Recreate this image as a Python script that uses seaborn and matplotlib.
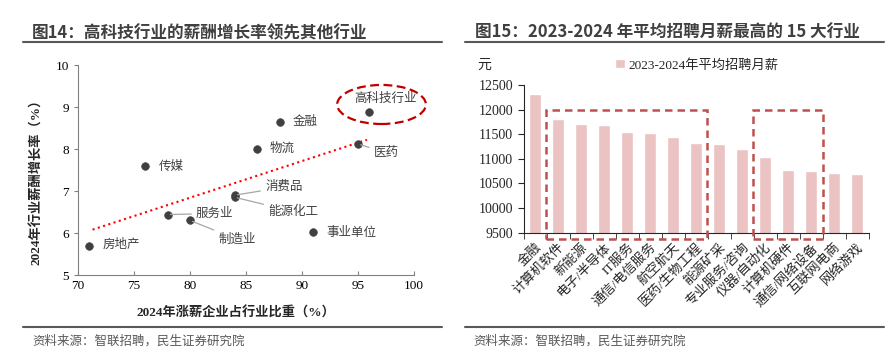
import numpy as np
import pandas as pd
import matplotlib
matplotlib.use("Agg")
import matplotlib.pyplot as plt
from matplotlib.patches import Ellipse, Rectangle
from matplotlib.lines import Line2D
import seaborn as sns

sns.set_style("ticks")
plt.rcParams['font.family'] = ['Liberation Serif', 'Noto Sans CJK SC']
plt.rcParams['axes.unicode_minus'] = False

# ---- data: left chart (scatter) ----
industries = ['高科技行业', '金融', '医药', '物流', '传媒', '消费品', '能源化工',
              '服务业', '制造业', '事业单位', '房地产']
raise_share = [96, 88, 95, 86, 76, 84, 84, 78, 80, 91, 71]
salary_growth = [8.87, 8.65, 8.12, 8.0, 7.6, 6.9, 6.85, 6.44, 6.30, 6.02, 5.70]
trend_x = [71.3, 95.8]
trend_y = [6.08, 8.22]

# ---- data: right chart (bars) ----
sectors = ['金融', '计算机软件', '新能源', '电子/半导体', 'IT服务', '通信/电信服务',
           '航空航天', '医药/生物工程', '能源矿采', '专业服务/咨询', '仪器/自动化',
           '计算机硬件', '通信/网络设备', '互联网电商', '网络游戏']
monthly_pay = [12310, 11810, 11710, 11690, 11540, 11525, 11440, 11320, 11300,
               11190, 11030, 10780, 10750, 10715, 10700]

W, H = 893, 356
fig = plt.figure(figsize=(W / 100, H / 100), dpi=100)

def fx(px):
    return px / W

def fy(py):
    return 1 - py / H

title_font = ['Noto Sans CJK SC', 'DejaVu Sans']
dark = '#404040'

# titles + rules
fig.text(fx(32), fy(33), '图14：高科技行业的薪酬增长率领先其他行业', family=title_font,
         fontsize=12, fontweight='bold', color=dark, va='center', ha='left')
fig.text(fx(475), fy(33), '图15：2023-2024 年平均招聘月薪最高的 15 大行业', family=title_font,
         fontsize=12, fontweight='bold', color=dark, va='center', ha='left')
for x0, x1 in [(23, 442), (465, 884)]:
    fig.add_artist(Line2D([fx(x0), fx(x1)], [fy(41.5)] * 2, color='#595959', lw=1.5))
    fig.add_artist(Line2D([fx(x0), fx(x1)], [fy(327.3)] * 2, color='#595959', lw=1.5))
for x0 in [32, 473]:
    fig.text(fx(x0), fy(341.5), '资料来源：智联招聘，民生证券研究院', family=title_font,
             fontsize=9, color='#595959', va='center', ha='left')

# ---------------- left: scatter ----------------
ax1 = fig.add_axes([fx(78), fy(275), fx(414) - fx(78), fy(65) - fy(275)])
df1 = pd.DataFrame({'industry': industries, 'share': raise_share, 'growth': salary_growth})
sns.scatterplot(data=df1, x='share', y='growth', ax=ax1, color=dark, s=30,
                edgecolor=dark, linewidth=0.5, zorder=3)
ax1.plot(trend_x, trend_y, ls=':', color='#FF0000', lw=1.5, zorder=2)
ax1.set_xlim(70, 100)
ax1.set_ylim(5, 10)
ax1.set_xticks(range(70, 101, 5))
ax1.set_yticks(range(5, 11))
ax1.tick_params(axis='both', labelsize=9.5, colors='#808080', labelcolor='black', length=3)
ax1.tick_params(axis='x', direction='in')
for s in ['top', 'right']:
    ax1.spines[s].set_visible(False)
for s in ['left', 'bottom']:
    ax1.spines[s].set_color('#808080')
ax1.set_xlabel('2024年涨薪企业占行业比重（%）', fontsize=9.5, fontweight='bold')
ax1.set_ylabel('2024年行业薪酬增长率（%）', fontsize=9.5, fontweight='bold')
ax1.xaxis.set_label_coords(0.469, -0.151)
ax1.yaxis.set_label_coords(-0.104, 0.457)

# label offsets (points) and whether a leader line is drawn
offsets = {'高科技行业': (11.5, 9.4, 'center', False), '金融': (9.4, 0, 'left', False),
           '医药': (11.3, -6.3, 'left', True), '物流': (9.1, 0, 'left', False),
           '传媒': (9.6, -0.7, 'left', False), '消费品': (21.8, 5.8, 'left', True),
           '能源化工': (24, -10.2, 'left', True), '服务业': (20.4, 0.7, 'left', True),
           '制造业': (20.4, -13.7, 'left', True), '事业单位': (9.4, -0.5, 'left', False),
           '房地产': (9.6, 0.5, 'left', False)}
for name, xv, yv in zip(industries, raise_share, salary_growth):
    dx, dy, ha, lead = offsets[name]
    props = dict(arrowstyle='-', color='#a6a6a6', lw=0.9, shrinkA=1, shrinkB=2) if lead else None
    ax1.annotate(name, xy=(xv, yv), xytext=(dx, dy), textcoords='offset points',
                 ha=ha, va='center', fontsize=9, color=dark, arrowprops=props)

ell = Ellipse((97.1, 9.06), 7.92, 0.93, fill=False, edgecolor='#C00000', lw=1.6,
              ls=(0, (4, 2)), clip_on=False, zorder=4)
ax1.add_patch(ell)

# ---------------- right: bars ----------------
ax2 = fig.add_axes([fx(523.7), fy(232.7), fx(868.7) - fx(523.7), fy(85) - fy(232.7)])
df2 = pd.DataFrame({'sector': sectors, 'pay': monthly_pay})
sns.barplot(data=df2, x='sector', y='pay', ax=ax2, color='#EBC3C3', width=0.5,
            saturation=1, label='2023-2024年平均招聘月薪')
ax2.set_xlim(-0.5, len(sectors) - 0.5)
ax2.set_ylim(9500, 12500)
ax2.set_yticks(range(9500, 12501, 500))
ax2.set_xlabel('')
ax2.set_ylabel('')
for s in ['top', 'right']:
    ax2.spines[s].set_visible(False)
ax2.tick_params(axis='y', labelsize=10, length=4, direction='out')
ax2.tick_params(axis='x', which='major', length=0, labelsize=9.5, pad=6)
ax2.set_xticks(np.arange(-0.5, len(sectors), 1), minor=True)
ax2.tick_params(axis='x', which='minor', length=4, direction='out')
plt.setp(ax2.get_xticklabels(), rotation=45, ha='right', rotation_mode='anchor')
ax2.text(fx(484), fy(65), '元', transform=fig.transFigure, fontsize=10,
         ha='center', va='center')
leg = ax2.legend(loc='center', bbox_to_anchor=(fx(697), fy(65)),
                 bbox_transform=fig.transFigure, frameon=False, fontsize=9.5,
                 handlelength=0.7, handleheight=0.7, handletextpad=0.3)

for x0, x1 in [(0.47, 7.47), (9.46, 12.5)]:
    ax2.add_patch(Rectangle((x0, 9380), x1 - x0, 12000 - 9380, fill=False,
                            edgecolor='#C0504D', lw=1.8, ls=(0, (3, 2)),
                            clip_on=False, zorder=4))

fig.savefig('out.png', dpi=100, facecolor='white')
